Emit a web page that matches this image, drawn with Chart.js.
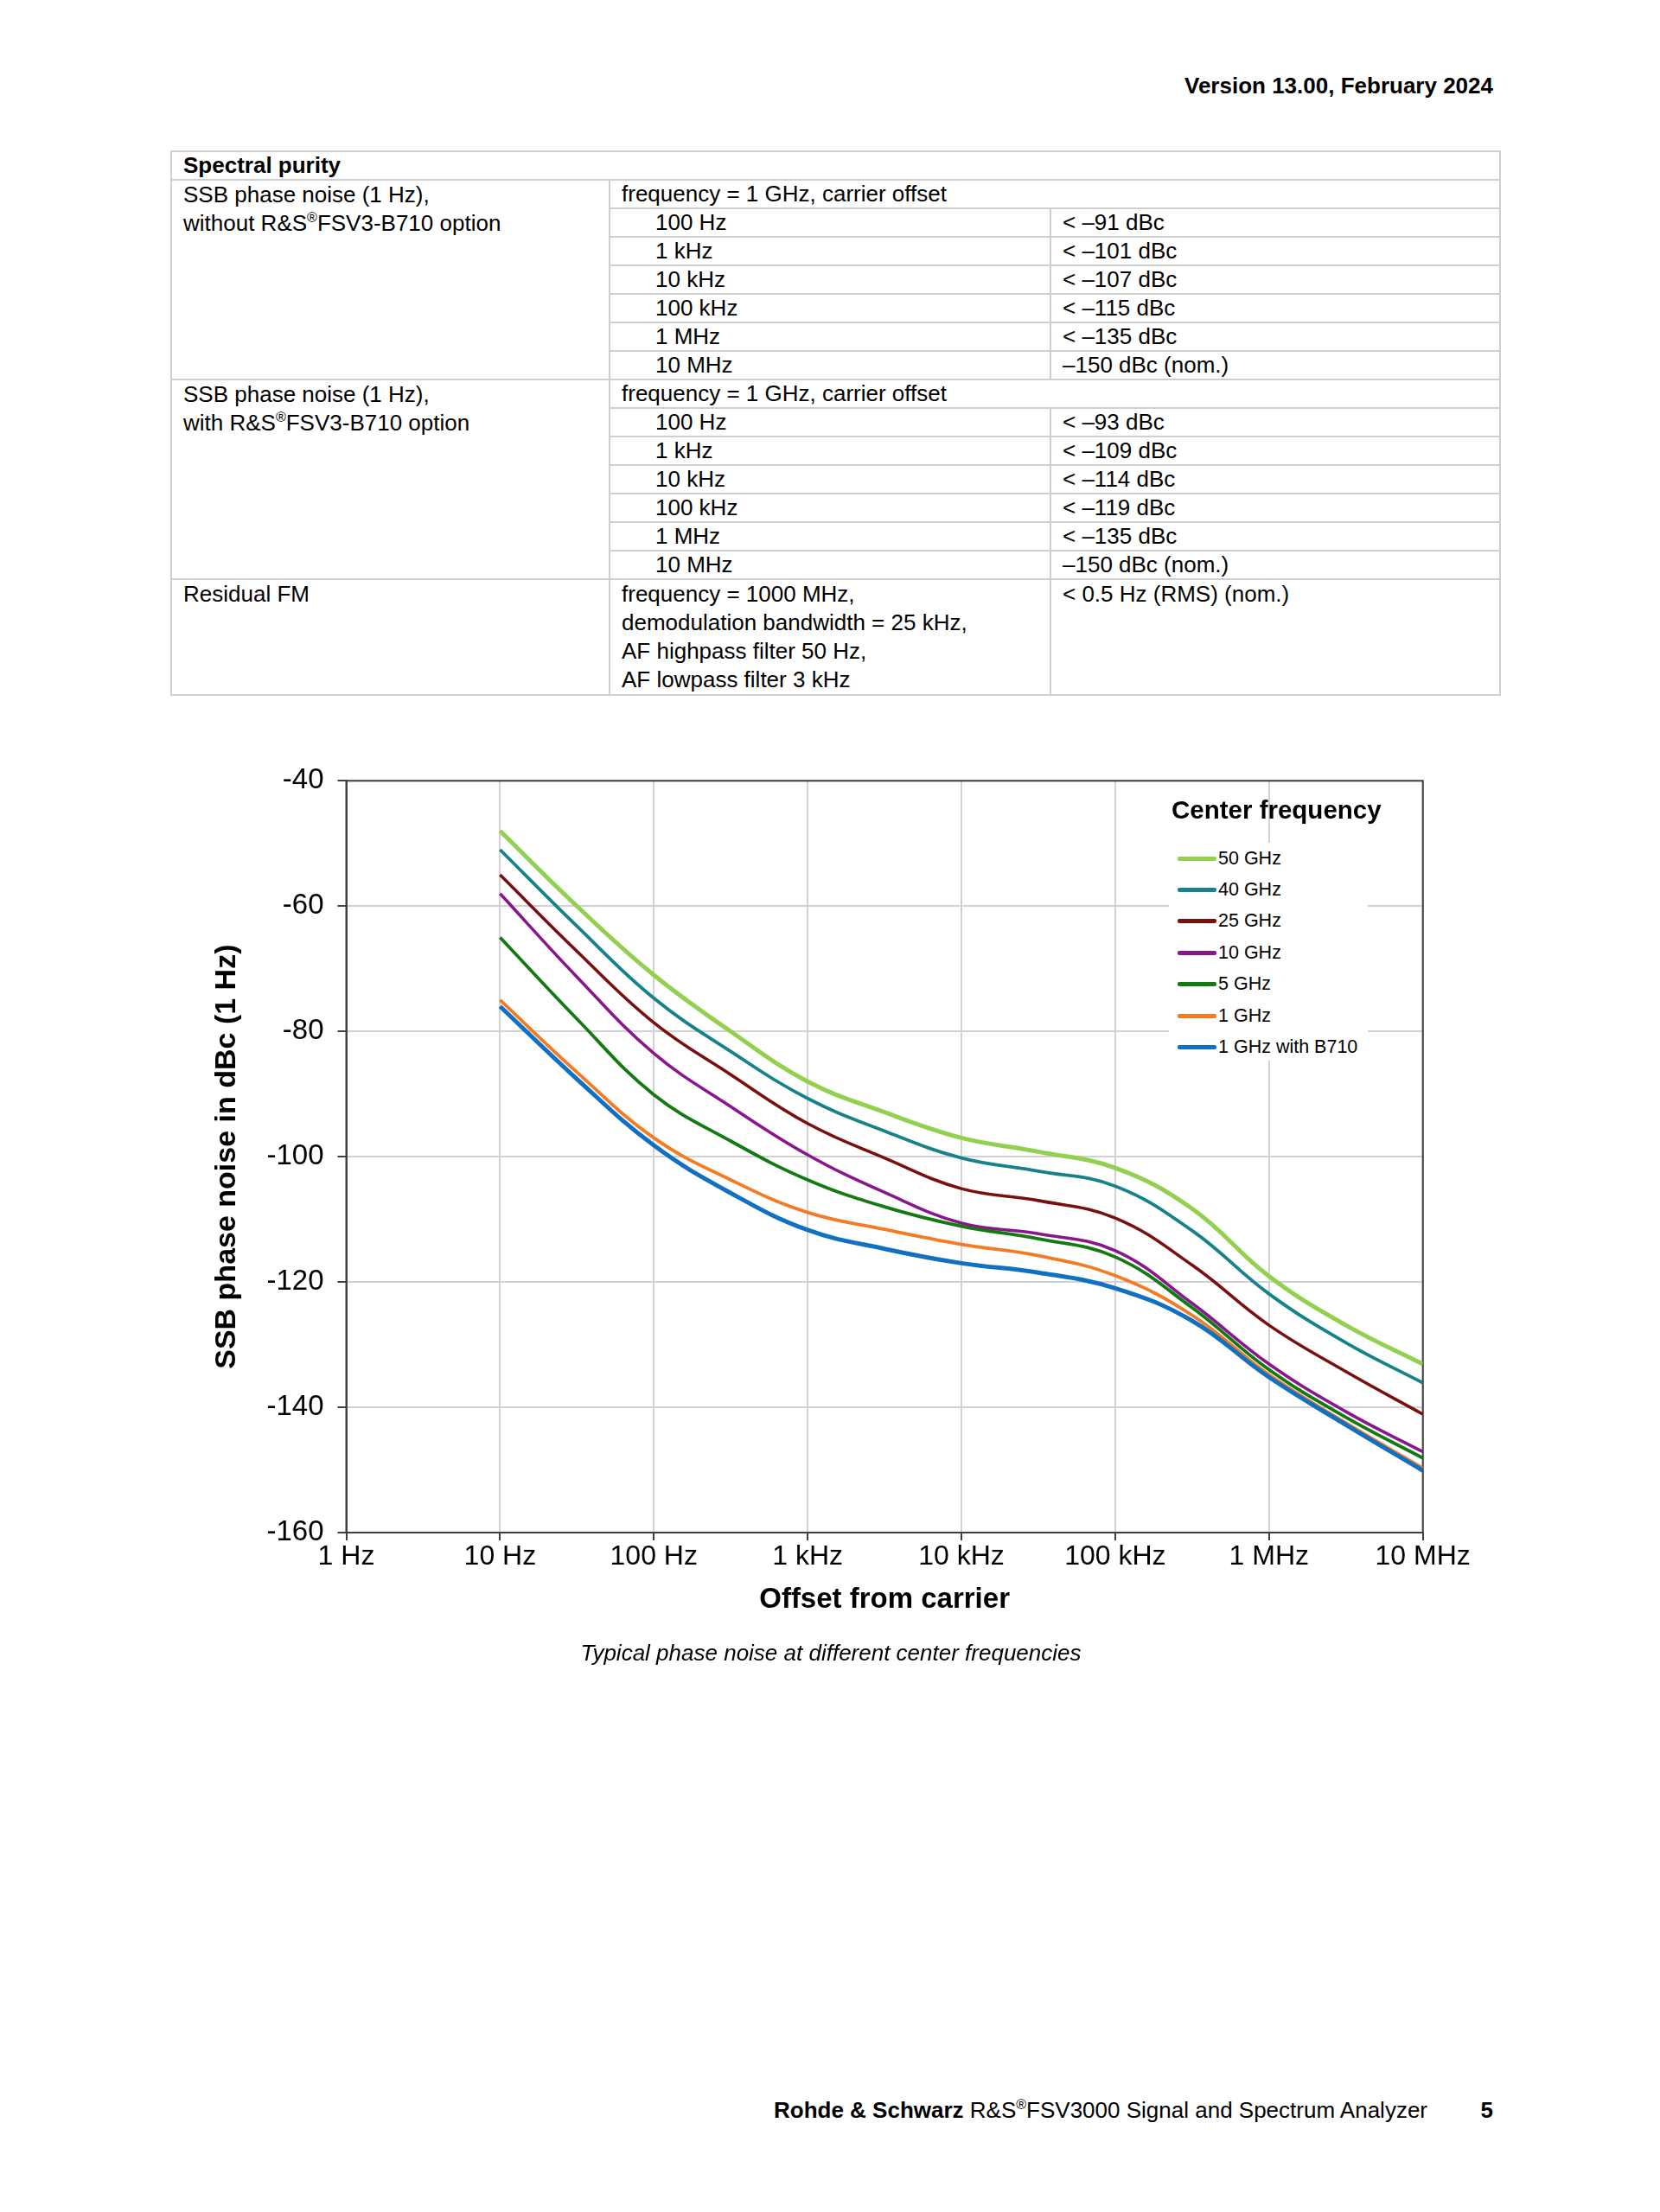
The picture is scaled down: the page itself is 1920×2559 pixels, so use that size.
<!DOCTYPE html>
<html>
<head>
<meta charset="utf-8">
<script src="https://cdn.jsdelivr.net/npm/chart.js@4.4.1/dist/chart.umd.min.js"></script>
<style>
  body {
    margin: 0;
    width: 1920px;
    height: 2559px;
    position: relative;
    background: #ffffff;
    font-family: 'Liberation Sans', Arial, sans-serif;
    color: #000000;
  }
  .abs { position: absolute; white-space: nowrap; }
  #version { right: 193px; top: 84px; font-size: 26px; line-height: 30px; font-weight: bold; }
  #spec {
    position: absolute;
    left: 197px;
    top: 174px;
    width: 1537px;
    border-collapse: collapse;
    table-layout: fixed;
    font-size: 26px;
  }
  #spec td {
    border: 2px solid #cfcfcf;
    padding: 0 0 0 13px;
    line-height: 31px;
    vertical-align: top;
    white-space: nowrap;
  }
  #spec td.ind { padding-left: 52px; }
  #spec td.ml { line-height: 33px; }
  #spec sup { font-size: 16px; line-height: 0; }
  #chartCanvas { position: absolute; left: 200px; top: 860px; }
  #legendTitle { left: 1355px; top: 919px; font-size: 29.5px; line-height: 36px; font-weight: bold; }
  #legendBox { position: absolute; left: 1352px; top: 975px; width: 230px; height: 252px; background: #ffffff; }
  .item { height: 36.4px; display: flex; align-items: center; font-size: 21.5px; }
  .swatch { width: 45px; height: 5px; margin-left: 10px; margin-right: 2px; border-radius: 2px; }
  #caption { left: 0; width: 1922px; text-align: center; top: 1897px; font-size: 26px; line-height: 30px; font-style: italic; }
  #footer { left: 895px; top: 2426px; font-size: 26px; line-height: 30px; }
  #footer sup, #version sup { font-size: 16px; line-height: 0; }
  #page { right: 193px; top: 2426px; font-size: 26px; line-height: 30px; font-weight: bold; }
</style>
</head>
<body>
<div id="version" class="abs">Version 13.00, February 2024</div>

<table id="spec">
  <colgroup><col style="width:507px"><col style="width:510px"><col style="width:520px"></colgroup>
  <tr><td colspan="3"><b>Spectral purity</b></td></tr>
  <tr><td rowspan="7" class="ml">SSB phase noise (1 Hz),<br>without R&amp;S<sup>®</sup>FSV3-B710 option</td><td colspan="2">frequency = 1 GHz, carrier offset</td></tr>
  <tr><td class="ind">100 Hz</td><td>&lt; –91 dBc</td></tr>
  <tr><td class="ind">1 kHz</td><td>&lt; –101 dBc</td></tr>
  <tr><td class="ind">10 kHz</td><td>&lt; –107 dBc</td></tr>
  <tr><td class="ind">100 kHz</td><td>&lt; –115 dBc</td></tr>
  <tr><td class="ind">1 MHz</td><td>&lt; –135 dBc</td></tr>
  <tr><td class="ind">10 MHz</td><td>–150 dBc (nom.)</td></tr>
  <tr><td rowspan="7" class="ml">SSB phase noise (1 Hz),<br>with R&amp;S<sup>®</sup>FSV3-B710 option</td><td colspan="2">frequency = 1 GHz, carrier offset</td></tr>
  <tr><td class="ind">100 Hz</td><td>&lt; –93 dBc</td></tr>
  <tr><td class="ind">1 kHz</td><td>&lt; –109 dBc</td></tr>
  <tr><td class="ind">10 kHz</td><td>&lt; –114 dBc</td></tr>
  <tr><td class="ind">100 kHz</td><td>&lt; –119 dBc</td></tr>
  <tr><td class="ind">1 MHz</td><td>&lt; –135 dBc</td></tr>
  <tr><td class="ind">10 MHz</td><td>–150 dBc (nom.)</td></tr>
  <tr><td class="ml">Residual FM</td><td class="ml">frequency = 1000 MHz,<br>demodulation bandwidth = 25 kHz,<br>AF highpass filter 50 Hz,<br>AF lowpass filter 3 kHz</td><td class="ml">&lt; 0.5 Hz (RMS) (nom.)</td></tr>
</table>

<canvas id="chartCanvas" width="1560" height="1040"></canvas>
<div id="legendTitle" class="abs">Center frequency</div>
<div id="legendBox"></div>

<div id="caption" class="abs">Typical phase noise at different center frequencies</div>
<div id="footer" class="abs"><b>Rohde &amp; Schwarz</b> R&amp;S<sup>®</sup>FSV3000 Signal and Spectrum Analyzer</div>
<div id="page" class="abs">5</div>

<script>
// carrier offset in Hz (half-decade steps)
const offsetHz = [10, 31.6, 100, 316, 1000, 3160, 10000, 31600, 100000, 316000, 1000000, 3160000, 10000000]

// SSB phase noise in dBc (1 Hz)
const ghz50 = [-48, -60, -71, -80, -88, -92.9, -97, -99.2, -101.8, -108.3, -119.1, -126.9, -133.1]
const ghz40 = [-51, -63.2, -74.7, -83.2, -90.7, -95.9, -100.2, -102.3, -104.7, -111.8, -121.9, -129.7, -136.1]
const ghz25 = [-55, -67.2, -78.6, -86.9, -94.7, -100.2, -105.1, -107, -109.8, -117.3, -126.9, -134.3, -141.1]
const ghz10 = [-58, -71.3, -83.5, -92, -99.7, -105.7, -110.6, -112.3, -115, -123.4, -133.1, -140.7, -147.1]
const ghz5 = [-65, -78, -90.1, -97.5, -103.7, -108, -111.1, -113.1, -116, -124.1, -134, -141.6, -148.1]
const ghz1 = [-75, -86.5, -97, -103.7, -108.9, -111.6, -114, -115.8, -119, -125.3, -134.8, -142.5, -149.7]
const ghz1B710 = [-76, -87.6, -98.2, -105.8, -111.7, -114.7, -117, -118.5, -121, -126.2, -135.2, -142.8, -150.1]

const seriesNames = ['50 GHz', '40 GHz', '25 GHz', '10 GHz', '5 GHz', '1 GHz', '1 GHz with B710']

// axes
const xTickValues = [1, 10, 100, 1000, 10000, 100000, 1000000, 10000000]
const xTickLabels = ['1 Hz', '10 Hz', '100 Hz', '1 kHz', '10 kHz', '100 kHz', '1 MHz', '10 MHz']
const yMin = -160
const yMax = -40
const yStep = 20

const toPoints = (values) => values.map((v, i) => ({ x: offsetHz[i], y: v }))

Chart.defaults.font.family = "'Liberation Sans', Arial, sans-serif"
Chart.defaults.color = '#000000'

// frame around the plot area (top and right sides too)
const frame = {
  id: 'frame',
  beforeDatasetsDraw(chart) {
    const { ctx, chartArea } = chart
    ctx.save()
    ctx.strokeStyle = '#404040'
    ctx.lineWidth = 2
    ctx.strokeRect(chartArea.left, chartArea.top, chartArea.right - chartArea.left, chartArea.bottom - chartArea.top)
    ctx.restore()
  }
}

const line = (i, color, width) => ({
  label: seriesNames[i],
  data: toPoints([ghz50, ghz40, ghz25, ghz10, ghz5, ghz1, ghz1B710][i]),
  borderColor: color,
  backgroundColor: color,
  borderWidth: width,
  pointRadius: 0,
  tension: 0.4,
  order: 6 - i
})

const chart = new Chart(document.getElementById('chartCanvas'), {
  type: 'line',
  data: {
    datasets: [
      line(0, '#92d050', 5),
      line(1, '#16828a', 3.8),
      line(2, '#7a0f0f', 3.6),
      line(3, '#8a168e', 3.6),
      line(4, '#137a13', 3.8),
      line(5, '#f47b22', 3.8),
      line(6, '#1170c1', 5)
    ]
  },
  options: {
    responsive: false,
    animation: false,
    layout: {
      padding: { left: 38.6, top: 43.3, right: 114.3, bottom: 25.6 }
    },
    plugins: {
      legend: { display: false },
      tooltip: { enabled: false }
    },
    scales: {
      x: {
        type: 'logarithmic',
        min: 1,
        max: 10000000,
        afterBuildTicks: (scale) => {
          scale.ticks = xTickValues.map(v => ({ value: v }))
        },
        afterFit: (scale) => { scale.height = 101.4 },
        ticks: {
          autoSkip: false,
          maxRotation: 0,
          padding: 0,
          font: { size: 32 },
          callback: (value) => xTickLabels[xTickValues.indexOf(value)]
        },
        grid: { color: '#d2d2d2', lineWidth: 2, tickColor: '#404040', tickLength: 9 },
        border: { color: '#404040', width: 2 },
        title: {
          display: true,
          text: 'Offset from carrier',
          font: { size: 33, weight: 'bold' }
        }
      },
      y: {
        min: yMin,
        max: yMax,
        afterFit: (scale) => { scale.width = 161.9 },
        ticks: {
          stepSize: yStep,
          padding: 16,
          font: { size: 33 }
        },
        grid: { color: '#d2d2d2', lineWidth: 2, tickColor: '#404040', tickLength: 10 },
        border: { color: '#404040', width: 2 },
        title: {
          display: true,
          text: 'SSB phase noise in dBc (1 Hz)',
          font: { size: 34, weight: 'bold' }
        }
      }
    }
  },
  plugins: [frame]
})

// legend inside the plot, built from the datasets
const legendBox = document.getElementById('legendBox')
chart.data.datasets.forEach(ds => {
  const item = document.createElement('div')
  item.className = 'item'
  const swatch = document.createElement('div')
  swatch.className = 'swatch'
  swatch.style.background = ds.borderColor
  const text = document.createElement('span')
  text.textContent = ds.label
  item.appendChild(swatch)
  item.appendChild(text)
  legendBox.appendChild(item)
})
</script>
</body>
</html>
